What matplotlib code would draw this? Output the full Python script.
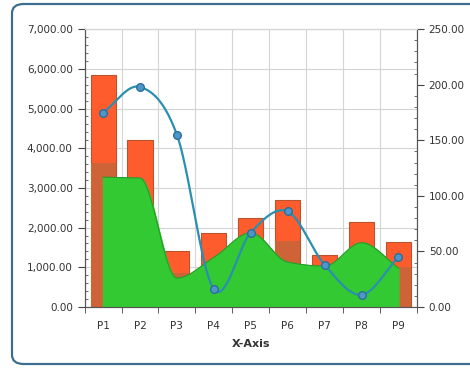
import numpy as np
import matplotlib.pyplot as plt
from matplotlib.patches import FancyBboxPatch
from matplotlib.ticker import FuncFormatter, MultipleLocator

# chart data
categories = ["P1", "P2", "P3", "P4", "P5", "P6", "P7", "P8", "P9"]
bar_values = [5850, 4200, 1400, 1870, 2250, 2700, 1300, 2150, 1630]
area_values = [3270, 3250, 730, 1250, 1870, 1130, 1030, 1620, 980]
line_values = [175, 198, 155, 16, 67, 86, 38, 11, 45]


def pchip(x, y, n=40):
    # monotone cubic (Fritsch-Carlson) for the smooth area
    x = np.asarray(x, float)
    y = np.asarray(y, float)
    h = np.diff(x)
    d = np.diff(y) / h
    m = np.zeros_like(y)
    m[0], m[-1] = d[0], d[-1]
    for i in range(1, len(y) - 1):
        if d[i - 1] * d[i] > 0:
            m[i] = 2 / (1 / d[i - 1] + 1 / d[i])
    xs, ys = [], []
    for i in range(len(h)):
        t = np.linspace(0, 1, n, endpoint=False)
        h00 = 2 * t**3 - 3 * t**2 + 1
        h10 = t**3 - 2 * t**2 + t
        h01 = -2 * t**3 + 3 * t**2
        h11 = t**3 - t**2
        xs.append(x[i] + t * h[i])
        ys.append(h00 * y[i] + h10 * h[i] * m[i] + h01 * y[i + 1] + h11 * h[i] * m[i + 1])
    xs.append([x[-1]])
    ys.append([y[-1]])
    return np.concatenate(xs), np.concatenate(ys)


def catmull(x, y, n=40):
    x = np.asarray(x, float)
    y = np.asarray(y, float)
    px = np.concatenate([[2 * x[0] - x[1]], x, [2 * x[-1] - x[-2]]])
    py = np.concatenate([[2 * y[0] - y[1]], y, [2 * y[-1] - y[-2]]])
    xs, ys = [], []
    t = np.linspace(0, 1, n, endpoint=False)
    for i in range(1, len(px) - 2):
        for p, out in ((px, xs), (py, ys)):
            p0, p1, p2, p3 = p[i - 1], p[i], p[i + 1], p[i + 2]
            out.append(0.5 * (2 * p1 + (-p0 + p2) * t + (2 * p0 - 5 * p1 + 4 * p2 - p3) * t**2
                              + (-p0 + 3 * p1 - 3 * p2 + p3) * t**3))
    xs.append([x[-1]])
    ys.append([y[-1]])
    return np.concatenate(xs), np.concatenate(ys)


plt.rcParams['font.family'] = ['DejaVu Sans']
fig = plt.figure(figsize=(4.7, 3.69), dpi=100)
fig.patches.append(FancyBboxPatch((12 / 470, 5 / 369), 480 / 470, 360 / 369,
                                  boxstyle="round,pad=0,rounding_size=0.025",
                                  transform=fig.transFigure, fill=False,
                                  edgecolor="#3d6e8f", linewidth=1.6))

ax = fig.add_axes([0.18, 0.168, 0.707, 0.753])
ax2 = ax.twinx()

x = np.arange(len(categories))

# bars with darker lower part
ax.bar(x, bar_values, width=0.68, color="#ff5c2e", edgecolor="#b8532c", linewidth=0.8, zorder=2)
ax.bar(x, [v * 0.62 for v in bar_values], width=0.68, color="#cf6338", linewidth=0, zorder=2.1)

# smooth area
ax_x, ax_y = pchip(x, area_values)
ax.fill_between(ax_x, 0, ax_y, color="#33c933", zorder=3)
ax.plot(ax_x, ax_y, color="#2a9a2a", linewidth=0.8, zorder=3.1)

# smooth line on right axis
lx, ly = catmull(x, line_values)
ax2.plot(lx, ly, color="#2a8fb0", linewidth=1.6, zorder=5)
ax2.plot(x, line_values, "o", markersize=5.5, markerfacecolor="#4c96c9",
         markeredgecolor="#2b6f99", markeredgewidth=1, zorder=6)

ax.set_xlim(-0.5, len(categories) - 0.5)
ax.set_ylim(0, 7000)
ax2.set_ylim(0, 250)

ax.yaxis.set_major_locator(MultipleLocator(1000))
ax.yaxis.set_minor_locator(MultipleLocator(200))
ax2.yaxis.set_major_locator(MultipleLocator(50))
ax2.yaxis.set_minor_locator(MultipleLocator(10))
fmt = FuncFormatter(lambda v, p: f"{v:,.2f}")
ax.yaxis.set_major_formatter(fmt)
ax2.yaxis.set_major_formatter(fmt)

ax.set_xticks(x)
ax.set_xticklabels(categories)
ax.set_xticks(np.arange(len(categories) + 1) - 0.5, minor=True)
ax.tick_params(axis="x", which="major", length=0, labelsize=7.5, pad=10, colors="#333333")
ax.tick_params(axis="x", which="minor", length=4, direction="out", color="#444444")
for a in (ax, ax2):
    a.tick_params(axis="y", which="major", length=5, direction="out", labelsize=7.5,
                  color="#444444", labelcolor="#333333")
    a.tick_params(axis="y", which="minor", length=2.5, direction="in", color="#555555")

ax.grid(True, which="major", axis="y", color="#d4d4d4", linewidth=0.8, zorder=0)
ax.grid(True, which="minor", axis="x", color="#d4d4d4", linewidth=0.8, zorder=0)
ax.set_axisbelow(True)

for a in (ax, ax2):
    a.spines["top"].set_color("#d4d4d4")
    a.spines["left"].set_color("#555555")
    a.spines["right"].set_color("#555555")
    a.spines["bottom"].set_color("#555555")

ax.set_xlabel("X-Axis", fontsize=8, fontweight="bold", color="#333333", labelpad=6)

plt.savefig("out.png", dpi=100)
